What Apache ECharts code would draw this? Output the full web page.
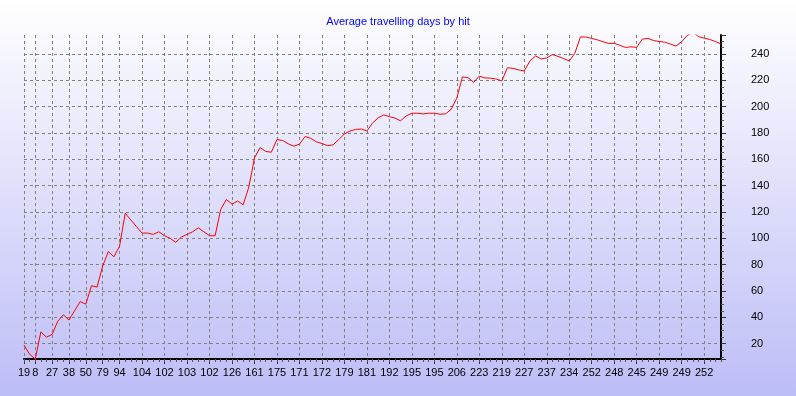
<!DOCTYPE html>
<html>
<head>
<meta charset="utf-8">
<script src="https://cdn.jsdelivr.net/npm/echarts@6/dist/echarts.min.js"></script>
<style>html,body{margin:0;padding:0;}#c{width:796px;height:396px;}</style>
</head>
<body>
<div id="c"></div>
<script>
// Series values (one per hit)
const values = [
  19, 12, 8.4, 29, 25, 27, 37, 42, 38, 45,
  52, 50, 64, 63, 79, 90, 86, 94, 119, 114,
  109, 104, 104, 103, 105, 102, 100, 97, 101, 103,
  105, 108, 105, 102, 102, 122, 129.5, 126, 128.3, 125.5,
  139, 161, 169, 166, 165.4, 175, 174.3, 171.8, 170, 171.5,
  177.3, 176, 173.3, 172, 170.4, 171, 175, 179.3, 181.5, 182.7,
  183, 181.5, 187.5, 191.5, 193.7, 192.4, 191.3, 189.2, 193, 195,
  195, 194.5, 195, 195, 194.3, 194.5, 198, 206.4, 222.6, 222,
  218.5, 223.2, 221.8, 221.6, 221, 219.5, 229.5, 229.1, 227.9, 227.1,
  234.6, 238.5, 236.2, 237, 239.5, 238.2, 236.5, 234.7, 240.5, 253,
  252.8, 251.8, 250.7, 249.3, 248, 248.1, 246.6, 245, 245.4, 245,
  251.3, 251.8, 250.2, 249.5, 249, 247.5, 246, 249.3, 254, 256.5,
  253.2, 252, 251, 249.5, 247.5
];
// Category tick labels shown on the x axis (index of point, text)
const labelPositions = [0, 2, 5, 8, 11, 14, 17, 21, 25, 29, 33, 37, 41, 45, 49, 53, 57, 61, 65, 69, 73, 77, 81, 85, 89, 93, 97, 101, 105, 109, 113, 117, 121];
const labelTexts = ['19', '8', '27', '38', '50', '79', '94', '104', '102', '103', '102', '126', '161', '175', '171', '172', '179', '181', '192', '195', '195', '206', '223', '219', '227', '237', '234', '252', '248', '245', '249', '249', '252'];
const titleText = 'Average travelling days by hit';
const yMin = 8.4, yMax = 254.4;

const categories = values.map((_, i) => String(i));
const xLabels = categories.map(() => '');
labelPositions.forEach((p, k) => { xLabels[p] = labelTexts[k]; });
const isMajor = (idx) => xLabels[idx] !== '';

const FONT = 'Liberation Sans, Arial, sans-serif';
const chart = echarts.init(document.getElementById('c'), null, {renderer: 'canvas'});
chart.setOption({
  animation: false,
  backgroundColor: {
    type: 'linear', x: 0, y: 0, x2: 0, y2: 1,
    colorStops: [{offset: 0, color: '#ffffff'}, {offset: 1, color: '#bdbdf7'}]
  },
  title: {
    text: titleText, left: 'center', top: 11,
    textStyle: {color: '#0000ff', fontSize: 11, fontWeight: 'normal', fontFamily: FONT}
  },
  grid: {left: 24, right: 75, top: 35, bottom: 37, containLabel: false},
  xAxis: [{
    type: 'category', data: categories, boundaryGap: false, position: 'bottom',
    axisLine: {show: true, lineStyle: {color: '#000', width: 2}},
    axisTick: {show: true, interval: isMajor, length: 5, lineStyle: {color: '#333'}},
    axisLabel: {interval: 0, formatter: (v, idx) => xLabels[idx], color: '#000', fontSize: 11, fontFamily: FONT, margin: 8},
    splitLine: {show: true, interval: isMajor, lineStyle: {color: '#808080', type: [3, 3], width: 1}}
  }, {
    type: 'category', data: categories, boundaryGap: false, position: 'bottom',
    axisLine: {show: false},
    axisTick: {show: true, interval: 0, length: 3, lineStyle: {color: '#555'}},
    axisLabel: {show: false},
    splitLine: {show: false}
  }],
  yAxis: {
    type: 'value', position: 'right', min: yMin, max: yMax, splitNumber: 12,
    axisLine: {show: true, lineStyle: {color: '#000', width: 2}},
    axisTick: {show: true, length: 5, lineStyle: {color: '#333'}},
    minorTick: {show: true, splitNumber: 4, length: 3, lineStyle: {color: '#555'}},
    axisLabel: {color: '#000', fontSize: 11, fontFamily: FONT, margin: 30, align: 'left', showMinLabel: false, showMaxLabel: false},
    splitLine: {show: true, showMinLine: false, showMaxLine: false, lineStyle: {color: '#808080', type: [3, 3], width: 1}}
  },
  series: [{
    type: 'line', data: values, xAxisIndex: 0, yAxisIndex: 0,
    showSymbol: false, symbol: 'none', clip: true,
    lineStyle: {color: '#ff0000', width: 1}
  }]
});
</script>
</body>
</html>
